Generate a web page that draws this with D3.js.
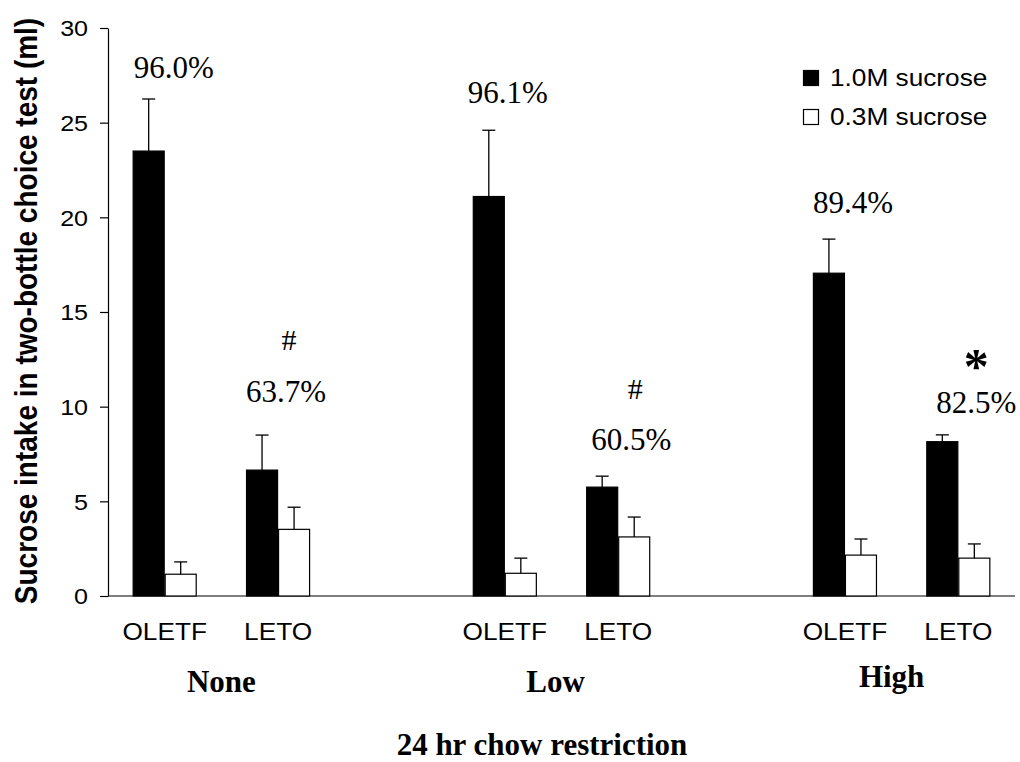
<!DOCTYPE html>
<html>
<head>
<meta charset="utf-8">
<script src="https://cdn.jsdelivr.net/npm/d3@7"></script>
<style>
  html, body { margin: 0; padding: 0; background: #fff; }
  svg { display: block; }
</style>
</head>
<body>
<div id="chart"></div>
<script>
// ---------------- data ----------------
const groups = ["None", "Low", "High"];
const strains = ["OLETF", "LETO"];
const seriesNames = ["1.0M sucrose", "0.3M sucrose"];
const sucrose10 = [23.5, 6.65, 21.1, 5.75, 17.05, 8.15];      // 1.0M, order: None-OLETF, None-LETO, Low-OLETF, ...
const sucrose10Sem = [2.75, 1.85, 3.5, 0.58, 1.8, 0.36];
const sucrose03 = [1.15, 3.52, 1.2, 3.12, 2.16, 2.0];          // 0.3M
const sucrose03Sem = [0.65, 1.17, 0.8, 1.05, 0.85, 0.75];
const preference = ["96.0%", "63.7%", "96.1%", "60.5%", "89.4%", "82.5%"];
const significance = ["", "#", "", "#", "", "*"];
const yTicks = [0, 5, 10, 15, 20, 25, 30];
const yTitle = "Sucrose intake in two-bottle choice test (ml)";
const xTitle = "24 hr chow restriction";

// ---------------- layout ----------------
const W = 1020, H = 762;
const plot = { left: 108, right: 1015, top: 28, bottom: 596 };
const SANS = "'Liberation Sans', Arial, sans-serif";
const SERIF = "'Liberation Serif', 'Times New Roman', serif";
const STRETCH = 1.14;  // sans text in the original is widened horizontally
// label nudges (px) relative to each pair centre / error-bar top
const pctOffset = [[9, -21], [8, -33], [3, -27], [13, -26], [8, -26], [18, -22]];
const sigOffset = [[0, 0], [11, -85], [0, 0], [17, -77], [0, 0], [18, -52]];
const groupLabelOffset = [[0, 692], [-6, 692], [-10, 687]];

// slots: 2 strains per group with one empty slot between groups
const slots = [];
groups.forEach((g, gi) => {
  strains.forEach(s => slots.push(g + "|" + s));
  if (gi < groups.length - 1) slots.push("gap" + gi);
});

const rows = [];
groups.forEach((g, gi) => strains.forEach((s, si) => {
  const i = gi * strains.length + si;
  rows.push({ i, group: g, strain: s, key: g + "|" + s,
    vals: [{ series: seriesNames[0], v: sucrose10[i], e: sucrose10Sem[i] },
           { series: seriesNames[1], v: sucrose03[i], e: sucrose03Sem[i] }] });
}));

const x = d3.scaleBand().domain(slots).range([plot.left, plot.right])
  .paddingInner(0.435).paddingOuter(0.2175);
const xs = d3.scaleBand().domain(seriesNames).range([0, x.bandwidth()]);
const y = d3.scaleLinear().domain([0, 30]).range([plot.bottom, plot.top]);
const fill = d3.scaleOrdinal().domain(seriesNames).range(["#000", "#fff"]);

const svg = d3.select("#chart").append("svg")
  .attr("width", W).attr("height", H).attr("viewBox", `0 0 ${W} ${H}`);

// ---------------- y axis ----------------
const yAxis = svg.append("g")
  .attr("transform", `translate(${plot.left},0)`)
  .call(d3.axisLeft(y).tickValues(yTicks).tickSize(8).tickSizeOuter(0));
yAxis.select(".domain").attr("stroke", "#000").attr("stroke-width", 1.2);
yAxis.selectAll(".tick line").attr("stroke", "#000").attr("stroke-width", 1.2);
yAxis.selectAll(".tick text")
  .attr("font-family", SANS).attr("font-size", 22).attr("fill", "#000")
  .attr("x", -20 / STRETCH).attr("dy", "0.35em")
  .attr("transform", `scale(${STRETCH},1)`);

// x baseline
svg.append("line")
  .attr("x1", plot.left).attr("x2", plot.right)
  .attr("y1", y(0)).attr("y2", y(0))
  .attr("stroke", "#000").attr("stroke-width", 1.2);

// ---------------- bars ----------------
const pair = svg.append("g").selectAll("g.pair").data(rows).join("g")
  .attr("class", "pair")
  .attr("transform", d => `translate(${x(d.key)},0)`);

pair.selectAll("rect").data(d => d.vals).join("rect")
  .attr("x", d => xs(d.series) + 0.5)
  .attr("y", d => y(d.v))
  .attr("width", xs.bandwidth() - 1)
  .attr("height", d => y(0) - y(d.v))
  .attr("fill", d => fill(d.series))
  .attr("stroke", "#000").attr("stroke-width", 1.2);

// error bars (upper only)
const capHalf = 6.5;
pair.selectAll("g.err").data(d => d.vals).join("g").attr("class", "err")
  .each(function (d) {
    const g = d3.select(this);
    const cx = xs(d.series) + xs.bandwidth() / 2;
    g.append("line").attr("x1", cx).attr("x2", cx)
      .attr("y1", y(d.v)).attr("y2", y(d.v + d.e))
      .attr("stroke", "#000").attr("stroke-width", 1.3);
    g.append("line").attr("x1", cx - capHalf).attr("x2", cx + capHalf)
      .attr("y1", y(d.v + d.e)).attr("y2", y(d.v + d.e))
      .attr("stroke", "#000").attr("stroke-width", 1.3);
  });

// strain labels
svg.append("g").selectAll("text").data(rows).join("text")
  .attr("transform", d => `translate(${x(d.key) + x.bandwidth() / 2},640) scale(${STRETCH},1)`)
  .attr("text-anchor", "middle")
  .attr("font-family", SANS).attr("font-size", 23).attr("fill", "#000")
  .text(d => d.strain);

// preference percentages
svg.append("g").selectAll("text").data(rows).join("text")
  .attr("x", d => x(d.key) + x.bandwidth() / 2 + pctOffset[d.i][0])
  .attr("y", d => y(d.vals[0].v + d.vals[0].e) + pctOffset[d.i][1])
  .attr("text-anchor", "middle")
  .attr("font-family", SERIF).attr("font-size", 31).attr("fill", "#000")
  .text(d => preference[d.i]);

// significance marks
svg.append("g").selectAll("text").data(rows.filter(d => significance[d.i] !== "")).join("text")
  .attr("x", d => x(d.key) + x.bandwidth() / 2 + sigOffset[d.i][0])
  .attr("y", d => y(d.vals[0].v + d.vals[0].e) + sigOffset[d.i][1])
  .attr("text-anchor", "middle")
  .attr("font-family", SERIF)
  .attr("font-size", d => significance[d.i] === "*" ? 50 : 30)
  .attr("font-weight", d => significance[d.i] === "*" ? "bold" : "normal")
  .attr("fill", "#000")
  .text(d => significance[d.i]);

// group labels
svg.append("g").selectAll("text").data(groups).join("text")
  .attr("x", (g, gi) => (x(g + "|" + strains[0]) + x(g + "|" + strains[1]) + x.bandwidth()) / 2 + groupLabelOffset[gi][0])
  .attr("y", (g, gi) => groupLabelOffset[gi][1])
  .attr("text-anchor", "middle")
  .attr("font-family", SERIF).attr("font-size", 31).attr("font-weight", "bold").attr("fill", "#000")
  .text(g => g);

// x title
svg.append("text")
  .attr("x", 542).attr("y", 755)
  .attr("text-anchor", "middle")
  .attr("font-family", SERIF).attr("font-size", 31).attr("font-weight", "bold").attr("fill", "#000")
  .text(xTitle);

// y title
svg.append("text")
  .attr("transform", `translate(37,311) scale(${STRETCH},1) rotate(-90)`)
  .attr("text-anchor", "middle")
  .attr("font-family", SANS).attr("font-size", 28).attr("font-weight", "bold").attr("fill", "#000")
  .text(yTitle);

// ---------------- legend ----------------
const legend = svg.append("g");
const legendRows = seriesNames.map((s, i) => ({ s, i }));
legend.selectAll("rect").data(legendRows).join("rect")
  .attr("x", 803.5).attr("y", d => 70.5 + d.i * 39)
  .attr("width", 15).attr("height", 15)
  .attr("fill", d => fill(d.s)).attr("stroke", "#000").attr("stroke-width", 1.2);
legend.selectAll("text").data(legendRows).join("text")
  .attr("transform", d => `translate(830,${86 + d.i * 39}) scale(${STRETCH},1)`)
  .attr("font-family", SANS).attr("font-size", 23).attr("fill", "#000")
  .text(d => d.s);
</script>
</body>
</html>
